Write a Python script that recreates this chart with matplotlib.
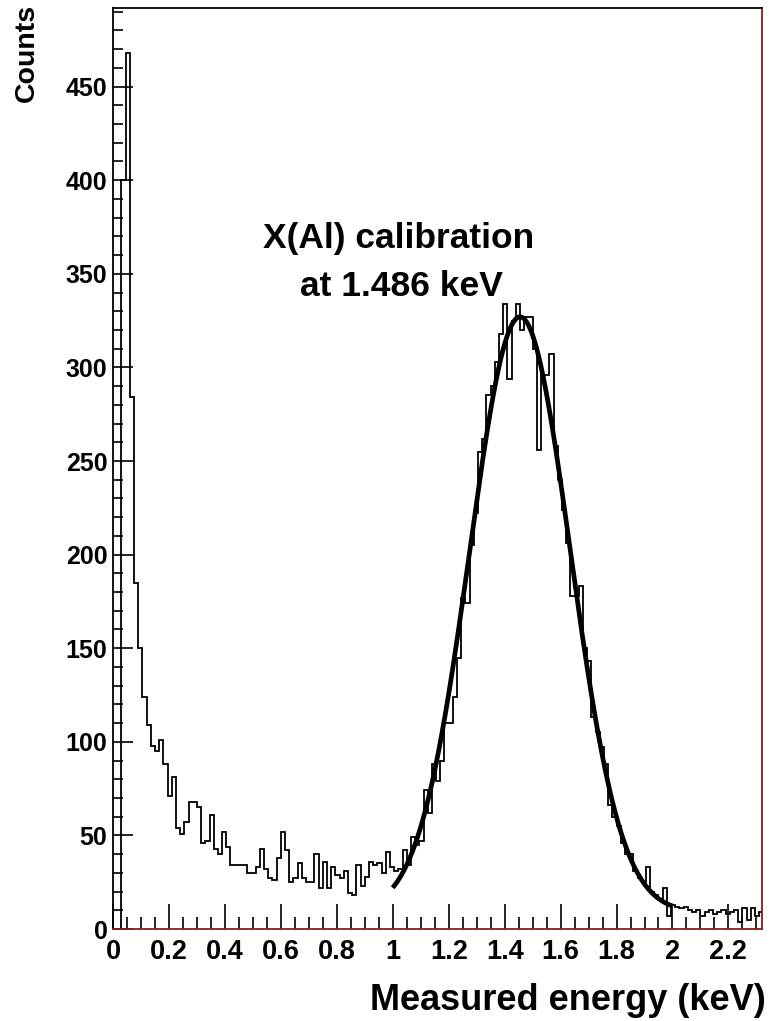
import numpy as np
import matplotlib
matplotlib.use("Agg")
import matplotlib.pyplot as plt
from matplotlib.ticker import MultipleLocator, FuncFormatter

# ---------------- data ----------------
bin_width = 0.015  # keV
counts = [
    0, 0, 400, 468, 284, 185, 150, 124, 109, 98,
    95, 101, 88, 71, 81, 54, 51, 57, 68, 68,
    65, 46, 47, 61, 43, 40, 52, 44, 34, 34,
    34, 34, 30, 30, 33, 43, 32, 27, 26, 38,
    52, 42, 25, 27, 35, 27, 25, 25, 40, 22,
    36, 22, 33, 29, 27, 31, 19, 18, 34, 23,
    28, 36, 34, 35, 30, 41, 33, 31, 32, 42,
    34, 49, 45, 47, 74, 62, 88, 79, 90, 110,
    110, 124, 145, 177, 174, 205, 222, 255, 262, 285,
    290, 303, 318, 334, 294, 325, 334, 320, 327, 327,
    310, 256, 296, 296, 307, 258, 240, 224, 206, 178,
    178, 183, 150, 143, 113, 105, 97, 88, 66, 60,
    55, 46, 40, 40, 31, 27, 25, 33, 20, 18,
    16, 22, 7, 13, 12, 11, 12, 10, 9, 10,
    7, 9, 10, 8, 9, 10, 8, 9, 10, 4,
    11, 5, 11, 7, 9,
]
# Gaussian + constant fit drawn over 1.0 - 2.0 keV
fit_const = 9.0
fit_amp = 318.0
fit_mean = 1.455
fit_sigma = 0.18
fit_range = (1.0, 2.0)

xticks = [0, 0.2, 0.4, 0.6, 0.8, 1.0, 1.2, 1.4, 1.6, 1.8, 2.0, 2.2]
yticks = [0, 50, 100, 150, 200, 250, 300, 350, 400, 450]

# ---------------- plot ----------------
plt.rcParams['font.family'] = ['Liberation Sans', 'DejaVu Sans']
plt.rcParams['font.weight'] = 'bold'

W, H = 777, 1021
fig = plt.figure(figsize=(W / 100, H / 100), dpi=100)
ax = fig.add_axes([113 / W, 1 - 929 / H, (762 - 113) / W, (929 - 8) / H])

edges = np.arange(len(counts) + 1) * bin_width
ax.stairs(counts, edges, color='black', linewidth=1.3, baseline=0)

xf = np.linspace(fit_range[0], fit_range[1], 400)
yf = fit_const + fit_amp * np.exp(-(xf - fit_mean) ** 2 / (2 * fit_sigma ** 2))
ax.plot(xf, yf, color='black', linewidth=3.4, solid_capstyle='butt')

ax.set_xlim(0, 2.32)
ax.set_ylim(0, 492)

ax.set_xticks(xticks)
ax.set_yticks(yticks)
ax.xaxis.set_minor_locator(MultipleLocator(0.05))
ax.yaxis.set_minor_locator(MultipleLocator(10))
ax.xaxis.set_major_formatter(FuncFormatter(lambda v, p: f"{v:g}"))
ax.tick_params(axis='both', which='both', direction='in', top=False, right=False,
               width=1.2, colors='black')
ax.tick_params(axis='x', which='major', length=18, pad=7, labelsize=19.5)
ax.tick_params(axis='x', which='minor', length=8.5)
ax.tick_params(axis='y', which='major', length=14.5, pad=4, labelsize=18)
ax.tick_params(axis='y', which='minor', length=7.2)
for lab in ax.get_xticklabels() + ax.get_yticklabels():
    lab.set_fontweight('bold')

red = '#8b1a1a'
ax.spines['left'].set_color('black')
ax.spines['top'].set_color('black')
ax.spines['right'].set_color(red)
ax.spines['bottom'].set_color(red)
for s in ax.spines.values():
    s.set_linewidth(1.3)

ax.text(1.02, 369, 'X(Al) calibration', ha='center', va='center',
        fontsize=25.5, fontweight='bold')
ax.text(1.03, 343, 'at 1.486 keV', ha='center', va='center',
        fontsize=25.5, fontweight='bold')

fig.text(766 / W, 1 - 1010 / H, 'Measured energy (keV)', ha='right', va='baseline',
         fontsize=26, fontweight='bold')
fig.text(27 / W, 1 - 4 / H, 'Counts', ha='center', va='top', rotation=90,
         fontsize=20.5, fontweight='bold')

fig.savefig('out.png', dpi=100)
